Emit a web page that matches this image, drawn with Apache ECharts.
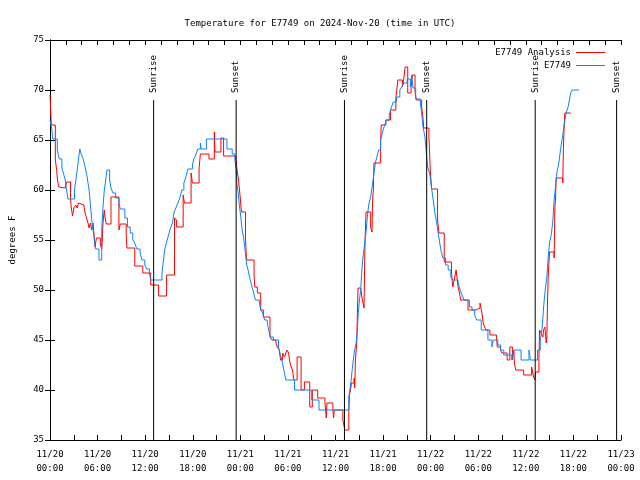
<!DOCTYPE html>
<html><head><meta charset="utf-8">
<script src="https://cdn.jsdelivr.net/npm/echarts@6/dist/echarts.min.js"></script>
<style>html,body{margin:0;padding:0;background:#fff}#c{width:640px;height:480px}</style>
</head><body><div id="c"></div>
<script>
var xTickLabels = ['11/20\n00:00','11/20\n06:00','11/20\n12:00','11/20\n18:00','11/21\n00:00','11/21\n06:00','11/21\n12:00','11/21\n18:00','11/22\n00:00','11/22\n06:00','11/22\n12:00','11/22\n18:00','11/23\n00:00'];
var sunTimes = [13.07, 23.47, 37.13, 47.5, 61.18, 71.45];
var sunLabels = ['Sunrise','Sunset','Sunrise','Sunset','Sunrise','Sunset'];

// E7749 Analysis (hours since 11/20 00:00 UTC, degrees F)
var analysisHours = [0,0.17,0.67,0.84,0.92,1.09,1.17,1.92,2.09,2.59,2.67,2.84,3.01,3.26,3.43,3.59,3.76,4.26,4.43,4.68,4.76,4.93,5.10,5.26,5.43,5.68,5.85,6.35,6.52,6.60,6.68,6.85,6.93,7.10,7.69,8.69,8.86,9.61,9.69,10.69,11.70,12.70,13.70,14.70,15.70,15.87,15.96,16.79,16.96,17.79,17.96,18.80,18.96,20.05,20.72,20.80,21.55,21.89,23.39,23.56,23.64,23.81,23.98,24.06,24.15,24.65,24.73,24.81,25.73,25.82,26.15,26.57,26.90,27.74,27.99,28.49,28.66,28.91,29.07,29.33,29.58,29.74,29.91,30.08,30.24,30.41,30.58,30.75,31.16,31.66,32.08,32.75,33.08,33.75,34.67,34.84,34.92,35.67,35.76,35.84,36.93,37.18,37.68,37.76,37.93,38.01,38.35,38.43,38.51,38.68,38.76,38.84,39.18,39.35,39.60,39.68,39.76,39.85,40.43,40.60,40.68,40.77,40.85,41.69,41.77,42.35,42.94,43.61,43.77,43.86,44.44,44.61,44.78,45.11,45.53,45.70,46.03,46.20,46.86,47.03,47.12,47.78,47.95,48.12,48.87,49.04,49.71,50.62,50.79,50.96,51.21,51.46,51.63,51.79,52.71,53.72,54.22,54.47,54.63,54.80,54.97,55.47,56.31,56.39,56.81,56.97,57.64,57.98,58.31,58.48,58.56,58.73,59.73,60.73,60.98,61.15,61.23,61.65,61.73,61.90,62.15,62.24,62.40,62.57,62.65,62.74,62.82,62.99,63.57,63.66,63.74,63.82,64.66,64.74,64.83,64.91,65.66];
var analysisTemps = [69.5,66.5,63.0,62.0,61.2,60.3,60.2,60.0,60.8,59.2,58.3,57.4,58.2,58.5,58.2,58.7,58.5,58.4,57.7,57.5,56.8,56.2,56.7,56.0,56.7,54.3,55.2,54.5,54.1,55.0,56.7,58.0,57.3,56.6,59.3,56.0,56.6,55.5,54.2,52.4,51.7,50.5,49.4,51.5,57.2,57.0,56.3,59.5,58.7,61.7,60.7,62.2,63.6,63.1,65.8,63.8,65.2,63.4,63.2,62.2,62.0,60.7,59.3,58.5,57.8,55.3,53.7,53.0,51.5,50.3,49.7,48.0,47.3,45.3,45.0,44.7,44.3,44.0,43.0,43.7,43.3,43.7,44.0,43.7,42.8,42.3,42.0,41.0,43.3,40.0,40.8,38.3,40.0,39.2,38.7,37.2,38.7,38.0,37.2,38.0,37.0,36.0,37.7,39.5,40.2,40.7,41.2,40.2,43.0,44.7,47.7,50.2,50.0,49.2,48.2,53.0,55.7,57.8,56.3,55.8,59.0,60.0,62.7,64.8,66.5,67.0,68.0,69.2,70.3,71.0,70.3,71.1,72.3,69.7,70.3,71.5,69.8,69.0,68.3,67.2,66.2,65.3,62.0,60.1,57.0,55.7,52.8,51.7,50.3,51.0,52.0,50.3,49.7,49.0,48.0,48.2,48.7,47.7,46.7,46.3,46.0,45.5,45.2,44.3,44.0,43.7,43.0,44.3,43.0,44.0,42.7,42.0,41.5,42.3,41.3,41.0,41.8,43.0,46.0,45.7,45.3,46.0,46.3,44.7,45.3,49.0,51.3,53.8,53.2,58.3,59.0,61.2,60.7,64.3,66.3,67.7,67.7];

// E7749 observed
var obsHours = [0,0.25,0.33,0.92,1.17,1.50,1.75,1.92,2.09,2.26,3.09,3.26,3.43,3.59,3.76,3.93,4.18,4.43,4.68,4.93,5.10,5.26,5.43,5.60,5.76,6.18,6.52,6.68,6.85,7.02,7.18,7.52,7.69,7.94,8.27,8.69,8.86,9.44,9.77,10.11,10.44,10.69,10.94,11.36,11.61,11.95,12.20,12.53,12.70,14.12,14.29,14.45,14.70,14.95,15.20,15.45,15.62,15.87,16.12,16.37,16.62,16.88,17.13,17.38,17.96,18.13,18.38,18.63,18.96,19.05,19.72,22.31,22.97,23.31,23.48,23.56,23.73,23.90,24.06,24.23,24.40,24.56,24.73,24.81,24.98,25.15,25.32,25.48,25.65,25.90,26.40,26.57,26.82,27.07,27.40,27.57,27.82,28.16,28.82,28.99,29.24,29.49,29.74,30.83,33.00,33.92,37.68,37.93,38.10,38.35,38.60,38.77,38.85,39.02,39.18,39.27,39.43,39.68,39.85,40.01,40.18,40.43,40.60,40.85,41.02,41.18,41.43,41.69,41.94,42.19,42.44,42.77,43.02,43.27,43.69,44.11,44.36,44.61,45.03,45.44,45.61,45.78,46.11,46.70,46.86,47.03,47.28,47.45,47.62,47.87,48.03,48.20,48.37,48.54,48.70,48.95,49.12,49.29,49.54,49.87,50.21,50.54,50.79,51.46,51.71,51.96,52.21,52.88,53.21,53.55,53.80,54.38,55.22,55.72,55.89,56.47,56.81,57.22,58.23,58.48,59.40,60.40,60.57,61.48,61.82,62.07,62.24,62.40,62.65,62.82,62.99,63.24,63.41,63.57,63.74,63.91,64.16,64.32,64.49,64.66,64.83,65.08,65.33,65.49,65.66,65.83,66.71];
var obsTemps = [67.0,66.0,65.1,64.0,63.1,62.2,61.5,61.0,60.0,59.1,60.0,61.0,62.0,63.1,64.1,63.6,63.1,62.3,61.3,60.0,58.5,57.0,56.0,55.0,54.1,53.0,56.0,58.3,60.0,61.0,62.0,61.0,60.2,59.7,59.2,58.7,58.1,57.2,56.3,55.7,55.0,54.7,54.1,53.7,53.0,52.5,52.1,51.7,51.0,51.7,52.8,54.0,54.8,55.5,56.2,56.7,57.7,58.2,58.7,59.2,60.0,60.7,61.3,62.1,62.5,63.1,63.5,64.1,64.7,64.1,65.1,64.1,63.6,63.0,62.0,60.7,59.7,58.3,57.3,56.0,55.3,54.3,53.0,52.5,52.0,51.3,50.8,50.3,49.8,49.0,48.7,48.0,47.7,47.0,46.7,46.0,45.3,45.0,44.3,43.7,43.0,42.0,41.0,40.0,39.0,38.0,39.3,40.7,42.0,43.7,44.7,46.0,47.5,49.0,50.0,51.3,53.0,54.7,55.8,57.3,58.5,59.3,60.2,61.7,62.7,63.2,64.0,65.0,65.8,66.5,67.0,67.5,68.2,68.8,69.3,70.0,70.3,70.7,71.1,70.3,71.5,70.2,69.1,68.7,67.7,66.3,65.3,63.7,62.3,61.7,60.7,59.7,58.7,57.7,57.0,55.7,54.8,54.0,53.2,52.5,52.0,51.3,51.0,50.7,50.0,49.5,49.0,48.3,48.0,47.5,47.0,46.0,45.0,44.3,45.0,44.5,44.0,43.5,43.0,44.0,43.0,44.0,43.0,44.0,45.0,46.3,48.3,49.7,51.3,53.3,54.7,55.7,57.0,59.0,60.3,61.7,62.7,63.7,64.7,65.5,66.5,67.7,68.3,69.0,69.7,70.0,70.0];

function pairs(xs, ys){ var o=[]; for (var i=0;i<xs.length;i++) o.push([xs[i], ys[i]]); return o; }
var FONT = 'DejaVu Sans Mono';
var chart = echarts.init(document.getElementById('c'), null, {renderer:'canvas'});
var sunData = sunTimes.map(function(t,i){ return [t, sunLabels[i]]; });
chart.setOption({
  animation:false,
  backgroundColor:'#fff',
  textStyle:{fontFamily:FONT, color:'#000'},
  title:{text:'Temperature for E7749 on 2024-Nov-20 (time in UTC)', left:'center', top:14,
    textStyle:{fontFamily:FONT, fontSize:9, fontWeight:'normal', color:'#000'}},
  legend:[
    {data:['E7749 Analysis'], right:30, top:43, orient:'vertical', align:'right', icon:'rect', itemWidth:29, itemHeight:1,
      textStyle:{fontFamily:FONT, fontSize:9, color:'#000'}},
    {data:['E7749'], right:30, top:56, orient:'vertical', align:'right', icon:'rect', itemWidth:29, itemHeight:1,
      textStyle:{fontFamily:FONT, fontSize:9, color:'#000'}}
  ],
  grid:{left:46, top:40, width:575, height:400},
  xAxis:[
    {type:'value', min:0, max:72, interval:3, position:'bottom',
      axisLine:{lineStyle:{color:'#000', width:1}},
      axisTick:{inside:true, length:5, lineStyle:{color:'#000'}},
      splitLine:{show:false},
      axisLabel:{fontFamily:FONT, fontSize:9, color:'#000', margin:8, lineHeight:14, showMinLabel:true, showMaxLabel:true,
        formatter:function(v){ return (v % 6 === 0) ? xTickLabels[v/6] : ''; }}},
    {type:'value', min:0, max:72, interval:2, position:'top',
      axisLine:{lineStyle:{color:'#000', width:1}},
      axisTick:{inside:true, length:5, lineStyle:{color:'#000'}},
      splitLine:{show:false}, axisLabel:{show:false}}
  ],
  yAxis:[
    {type:'value', min:35, max:75, interval:5, position:'left',
      name:'degrees F', nameLocation:'middle', nameRotate:90, nameGap:33,
      nameTextStyle:{fontFamily:FONT, fontSize:9, color:'#000'},
      axisLine:{show:true, lineStyle:{color:'#000', width:1}},
      axisTick:{show:true, inside:true, length:5, lineStyle:{color:'#000'}},
      splitLine:{show:false},
      axisLabel:{fontFamily:FONT, fontSize:9, color:'#000', margin:6}},
    {type:'value', min:35, max:75, interval:5, position:'right',
      axisLine:{show:true, lineStyle:{color:'#000', width:1}},
      axisTick:{show:true, inside:true, length:5, lineStyle:{color:'#000'}},
      splitLine:{show:false}, axisLabel:{show:false}}
  ],
  series:[
    {name:'E7749 Analysis', type:'line', step:'end', symbol:'none', data:pairs(analysisHours, analysisTemps),
      lineStyle:{color:'#ff0000', width:1}, itemStyle:{color:'#ff0000'}, z:2},
    {name:'E7749', type:'line', step:'end', symbol:'none', data:pairs(obsHours, obsTemps),
      lineStyle:{color:'#0a84ff', width:1}, itemStyle:{color:'#0a84ff'}, z:3},
    {name:'sun', type:'custom', clip:false, z:4, data:sunData,
      renderItem:function(params, api){
        var t = api.value(0);
        var p0 = api.coord([t, 35]);
        var p1 = api.coord([t, 69]);
        return {type:'group', children:[
          {type:'line', shape:{x1:p0[0], y1:p0[1], x2:p1[0], y2:p1[1]}, style:{stroke:'#000', lineWidth:1}},
          {type:'text', x:p1[0], y:p1[1]-7, rotation:Math.PI/2,
            style:{text:sunLabels[params.dataIndex], fontFamily:FONT, fontSize:9, fill:'#000', align:'left', verticalAlign:'middle'}}
        ]};
      }}
  ]
});
</script></body></html>
